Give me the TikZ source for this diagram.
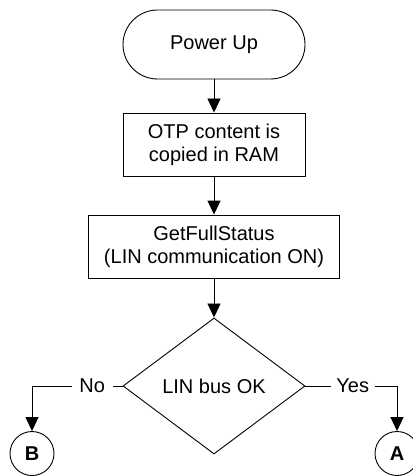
\documentclass[tikz,border=0pt]{standalone}
\usepackage{fontspec}
\setmainfont{Liberation Sans}
\usetikzlibrary{shapes.geometric,arrows.meta}
\begin{document}
\begin{tikzpicture}[x=1pt,y=-1pt,
  base/.style={draw, line width=0.9pt, inner sep=0pt, align=center, font=\fontsize{20}{23.3}\selectfont},
  term/.style={base, rounded corners=34.5pt, minimum width=182pt, minimum height=69pt},
  proc/.style={base, minimum height=63pt},
  dec/.style={base, diamond, minimum width=182pt, minimum height=136pt},
  conn/.style={base, circle, minimum size=44pt, font=\fontsize{20}{24}\selectfont\bfseries},
  flow/.style={line width=0.9pt, -{Triangle[width=13pt,length=14pt]}},
  lbl/.style={fill=white, inner ysep=2pt, font=\fontsize{20}{24}\selectfont}]
\useasboundingbox (0,0) rectangle (412,476);
\node[term] (pu) at (214,44.5) {Power Up};
\node[proc, minimum width=182pt] (otp) at (214,144.5) {OTP content is\\copied in RAM};
\node[proc, minimum width=251pt] (gfs) at (214,246.5) {GetFullStatus\\(LIN communication ON)};
\node[dec] (d) at (214,386) {LIN bus OK};
\node[conn] (b) at (32,453.5) {B};
\node[conn] (a) at (397,453.5) {A};
\draw[flow] (pu) -- (otp);
\draw[flow] (otp) -- (gfs);
\draw[flow] (gfs) -- (d);
\draw[flow] (d.west) -| node[lbl, pos=0.168, inner xsep=7.7pt] {No} (b);
\draw[flow] (d.east) -| node[lbl, pos=0.258, inner xsep=5.5pt] {Yes} (a);
\end{tikzpicture}
\end{document}
